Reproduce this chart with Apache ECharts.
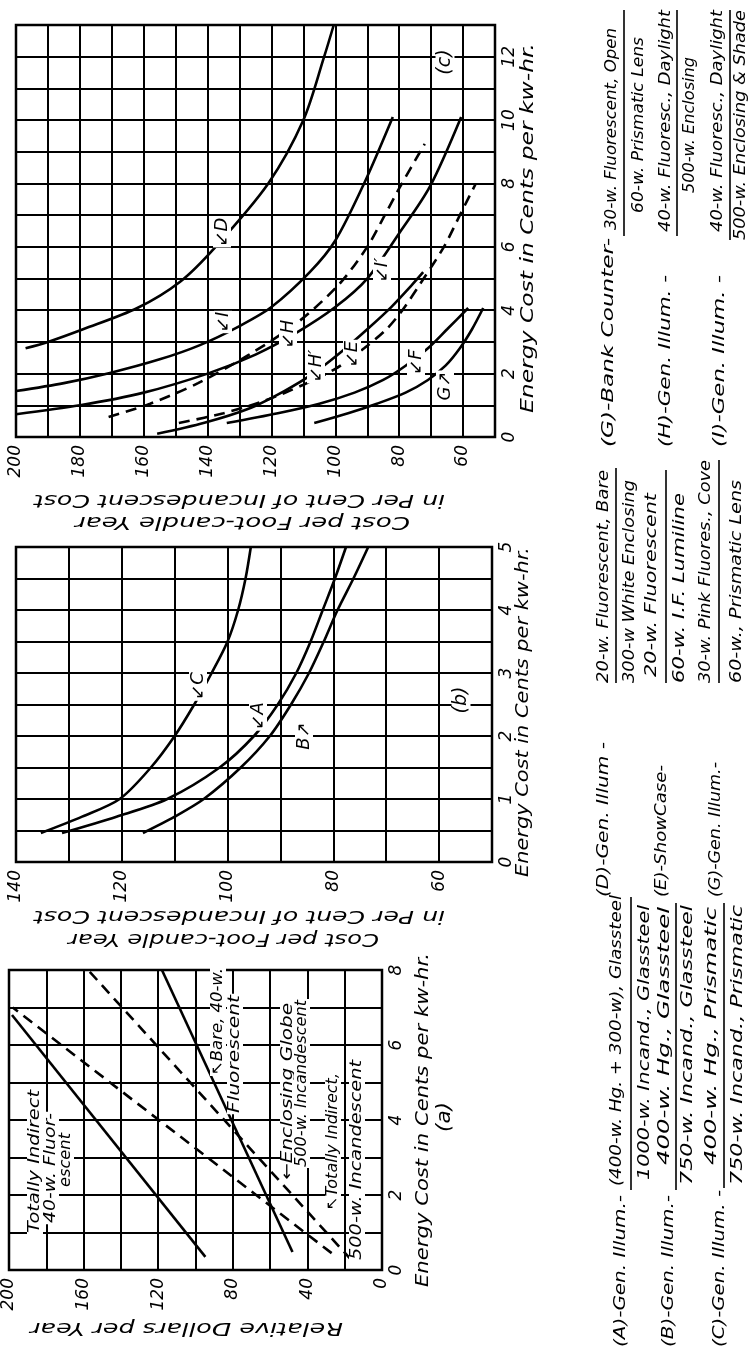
<!DOCTYPE html>
<html>
<head>
<meta charset="utf-8">
<script src="https://cdn.jsdelivr.net/npm/echarts@6.0.0/dist/echarts.min.js"></script>
<style>
html,body{margin:0;padding:0;background:#ffffff;}
#chart{width:749px;height:1349px;}
</style>
</head>
<body>
<div id="chart"></div>
<script>
// ================= DATA =================
// Each point: [cost (per cent of incandescent / relative dollars), energy cost in cents per kw-hr]
// ---- chart (c)
const cCurveD  = [[197,2.8],[190,3.0],[179,3.4],[162,4.07],[148.6,4.9],[137.5,6.0],[121,8.0],[110,10.0],[103.5,12.0],[100.5,13.0]];
const cCurveI  = [[200,1.45],[185,1.7],[170.6,2.02],[155,2.45],[142.4,2.9],[130,3.5],[120,4.1],[108,5.2],[100,6.2],[91,8.0],[82,10.1]];
const cCurveH  = [[200,0.72],[180,1.0],[160,1.4],[140,2.0],[125,2.6],[112,3.3],[100,4.1],[90,5.0],[80,6.43],[70.4,7.9],[60.6,10.1]];
const cCurveI2 = [[171,0.63],[158,1.05],[143,1.7],[127,2.6],[112,3.6],[99,4.8],[90,6.0],[84.5,7.0],[79.7,7.9],[72,9.25]];
const cCurveH2 = [[155.8,0.1],[141,0.45],[127,0.9],[116,1.45],[107,2.0],[98,2.7],[90,3.4],[82.5,4.1],[76,4.8],[72.5,5.2]];
const cCurveE  = [[149,0.44],[135,0.75],[122,1.15],[110,1.65],[100,2.15],[91,2.8],[84,3.4],[79,4.0],[73,4.9],[66,6.0],[61,7.0],[56,8.0]];
const cCurveF  = [[134,0.44],[118,0.75],[105,1.05],[94,1.4],[85,1.8],[78,2.25],[71,2.8],[65,3.4],[58.4,4.07]];
const cCurveG  = [[106.6,0.44],[96,0.75],[87,1.05],[78,1.4],[71,1.8],[65.5,2.25],[61,2.8],[57.2,3.4],[53.7,4.07]];
// ---- chart (b)
const bCurveC  = [[135.3,0.46],[127.5,0.72],[120.4,1.0],[114.5,1.5],[110,2.0],[106.3,2.5],[103,3.0],[100,3.5],[98,4.0],[96.6,4.5],[95.6,5.0]];
const bCurveA  = [[131.3,0.46],[121,0.72],[111.4,1.0],[101.5,1.5],[95,2.0],[90.5,2.5],[87,3.0],[84.3,3.5],[82,4.0],[79.7,4.5],[77.6,5.0]];
const bCurveB  = [[116,0.46],[110,0.72],[104.5,1.0],[97.5,1.5],[92,2.0],[88,2.5],[84.6,3.0],[81.8,3.5],[79.2,4.0],[76.2,4.5],[73.4,5.0]];
// ---- chart (a)
const aFluor40Indirect = [[94.7,0.35],[198.4,6.8]];
const aIncand500Indirect = [[27,0.45],[198,7.0]];
const aIncand500Globe = [[16.5,0.27],[157.6,8.0]];
const aFluor40Bare = [[48,0.48],[118,8.0]];
// ---- tick labels
const cCostTicks = [200,180,160,140,120,100,80,60];
const cEnergyTicks = [0,2,4,6,8,10,12];
const bCostTicks = [140,120,100,80,60];
const bEnergyTicks = [0,1,2,3,4,5];
const aCostTicks = [200,160,120,80,40,0];
const aEnergyTicks = [0,2,4,6,8];

// ================= LAYOUT =================
const FF = '"DejaVu Sans", "Liberation Sans", sans-serif';
const grids = [
  {left:16, top:25, width:479, height:412},   // (c)
  {left:16, top:547, width:476, height:315},  // (b)
  {left:9, top:970, width:373, height:300}    // (a)
];
// vertical texts reading bottom->top: [text, centerX, yStart(bottom), yEnd(top), fontSize, whiteBg]
const vTexts = [
  ['Energy Cost in Cents per kw-hr.', 528, 413, 43, 18, false],
  ['Energy Cost in Cents per kw-hr.', 523, 877, 547, 18, false],
  ['Energy Cost in Cents per kw-hr.', 423, 1287, 953, 18, false],
  ['(a)', 445, 1132, 1102, 19, false],
  ['Totally Indirect', 35, 1233, 1090, 16, true],
  ['40-w. Fluor-', 51, 1223, 1113, 16, true],
  ['escent', 66, 1187, 1133, 16, true],
  ['\u2196Bare, 40-w.', 218, 1075, 968, 16, true],
  ['Fluorescent', 235, 1113, 995, 16, true],
  ['\u2190Enclosing Globe', 288, 1180, 1003, 16, true],
  ['500-w. Incandescent', 302, 1167, 1000, 16, true],
  ['\u2196Totally Indirect,', 333, 1210, 1073, 16, true],
  ['500-w. Incandescent', 357, 1260, 1060, 16, true],
  // legend, top group
  ['(G)-Bank Counter-', 609, 447, 238, 16, false],
  ['30-w. Fluorescent, Open', 612, 230, 28, 16, false],
  ['60-w. Prismatic Lens', 639, 213, 37, 16, false],
  ['(H)-Gen. Illum. -', 666, 447, 275, 16, false],
  ['40-w. Fluoresc., Daylight', 666, 232, 10, 16, false],
  ['500-w. Enclosing', 690, 193, 57, 16, false],
  ['(I)-Gen. Illum. -', 720, 447, 275, 16, false],
  ['40-w. Fluoresc., Daylight', 718, 232, 10, 16, false],
  ['500-w. Enclosing & Shade', 741, 240, 10, 16, false],
  // legend, middle group
  ['(D)-Gen. Illum -', 604, 897, 742, 16, false],
  ['20-w. Fluorescent, Bare', 604, 683, 470, 16, false],
  ['300-w White Enclosing', 630, 683, 480, 16, false],
  ['(E)-ShowCase-', 662, 897, 765, 16, false],
  ['20-w. Fluorescent', 652, 677, 493, 16, false],
  ['60-w. I.F. Lumiline', 680, 683, 493, 16, false],
  ['(G)-Gen. Illum.-', 716, 897, 762, 16, false],
  ['30-w. Pink Fluores., Cove', 706, 683, 460, 16, false],
  ['60-w., Prismatic Lens', 737, 683, 480, 16, false],
  // legend, bottom group
  ['(A)-Gen. Illum.-', 621, 1347, 1195, 16, false],
  ['(400-w. Hg. + 300-w), Glassteel', 617, 1186, 895, 16, false],
  ['1000-w. Incand., Glassteel', 645, 1180, 905, 16, false],
  ['(B)-Gen. Illum.-', 669, 1347, 1195, 16, false],
  ['400-w. Hg., Glassteel', 665, 1165, 907, 16, false],
  ['750-w. Incand., Glassteel', 688, 1185, 905, 16, false],
  ['(C)-Gen. Illum. -', 720, 1347, 1190, 16, false],
  ['400-w. Hg., Prismatic', 712, 1165, 907, 16, false],
  ['750-w. Incand., Prismatic', 738, 1185, 905, 16, false]
];
// fraction bars: [x, yBottom, yTop]
const bars = [
  [624,236,10],[677,236,10],[730,240,10],
  [616,683,468],[666,683,470],[719,683,460],
  [631,1190,897],[676,1190,903],[724,1188,903]
];
// upside-down axis names: [text, centerY, xLeft, xRight, fontSize]
const flipTexts = [
  ['in Per Cent of Incandescent Cost', 499, 34, 445, 17],
  ['Cost per Foot-candle Year', 521, 75, 410, 17],
  ['in Per Cent of Incandescent Cost', 915, 34, 445, 17],
  ['Cost per Foot-candle Year', 938, 68, 379, 17],
  ['Relative Dollars per Year', 1327, 30, 343, 17]
];
// short curve labels: [text, centerX, centerY, fontSize]
const curveLabels = [
  ['(c)', 445, 62, 19], ['\u2199D', 222, 232, 18], ['\u2199I', 223, 322, 18], ['\u2199H', 288, 334, 18],
  ['\u2199H\u2032', 316, 366, 18], ['\u2199E', 352, 354, 18], ['\u2199I\u2032', 382, 270, 18],
  ['\u2199F', 416, 362, 18], ['G\u2197', 445, 386, 18],
  ['(b)', 461, 700, 19], ['\u2199C', 198, 686, 18], ['\u2199A', 258, 716, 18], ['B\u2197', 304, 736, 18]
];

// ================= BUILD =================
const mctx = document.createElement('canvas').getContext('2d');
function measure(t, size){ mctx.font = 'italic ' + size + 'px ' + FF; return mctx.measureText(t).width; }
function styleOf(t, size, bg){
  const s = {text:t, fontSize:size, fontFamily:FF, fontStyle:'italic', fill:'#000', align:'center', verticalAlign:'middle'};
  if (bg){ s.backgroundColor = '#fff'; s.padding = [0,1]; }
  return s;
}
const graphic = [];
vTexts.forEach(([t,x,y0,y1,size,bg]) => {
  const w = measure(t,size);
  graphic.push({type:'text', x:x, y:(y0+y1)/2, rotation:Math.PI/2, scaleX:(y0-y1)/w, scaleY:1, z:20, style:styleOf(t,size,bg)});
});
flipTexts.forEach(([t,y,x0,x1,size]) => {
  const w = measure(t,size);
  graphic.push({type:'text', x:(x0+x1)/2, y:y, rotation:Math.PI, scaleX:(x1-x0)/w, scaleY:1, z:20, style:styleOf(t,size,false)});
});
curveLabels.forEach(([t,x,y,size]) => {
  graphic.push({type:'text', x:x, y:y, rotation:Math.PI/2, z:20, style:styleOf(t,size,true)});
});
bars.forEach(([x,y0,y1]) => {
  graphic.push({type:'line', z:20, shape:{x1:x,y1:y0,x2:x,y2:y1}, style:{stroke:'#000', lineWidth:1.6}});
});

function costAxis(gi, min, max, step, ticks){
  return {gridIndex:gi, type:'value', min:min, max:max, interval:step, inverse:true, position:'bottom',
    axisLine:{show:false}, axisTick:{show:false},
    splitLine:{show:true, lineStyle:{color:'#000', width:2}},
    axisLabel:{rotate:90, margin:8, color:'#000', fontSize:17, fontStyle:'italic', fontFamily:FF,
      formatter:v => ticks.indexOf(v) >= 0 ? String(v) : ''}};
}
function energyAxis(gi, min, max, step, ticks){
  return {gridIndex:gi, type:'value', min:min, max:max, interval:step, position:'right',
    axisLine:{show:false}, axisTick:{show:false},
    splitLine:{show:true, lineStyle:{color:'#000', width:2}},
    axisLabel:{rotate:90, margin:6, color:'#000', fontSize:17, fontStyle:'italic', fontFamily:FF,
      formatter:v => ticks.indexOf(v) >= 0 ? String(v) : ''}};
}
function curve(gi, name, data, dashed, smooth){
  return {type:'line', name:name, xAxisIndex:gi, yAxisIndex:gi, data:data, smooth:smooth, symbol:'none', showSymbol:false,
    silent:true, z:5, lineStyle:{color:'#000', width:2.6, type: dashed ? [11,7] : 'solid'}};
}

const option = {
  animation:false,
  backgroundColor:'#fff',
  grid: grids.map(g => Object.assign({show:true, borderColor:'#000', borderWidth:2.5, backgroundColor:'transparent', containLabel:false}, g)),
  xAxis:[ costAxis(0,50,200,10,cCostTicks), costAxis(1,50,140,10,bCostTicks), costAxis(2,0,200,20,aCostTicks) ],
  yAxis:[ energyAxis(0,0,13,1,cEnergyTicks), energyAxis(1,0,5,0.5,bEnergyTicks), energyAxis(2,0,8,1,aEnergyTicks) ],
  series:[
    curve(0,'D',cCurveD,false,0.3), curve(0,'I',cCurveI,false,0.3), curve(0,'H',cCurveH,false,0.3),
    curve(0,"I'",cCurveI2,true,0.3), curve(0,"H'",cCurveH2,false,0.3), curve(0,'E',cCurveE,true,0.3),
    curve(0,'F',cCurveF,false,0.3), curve(0,'G',cCurveG,false,0.3),
    curve(1,'C',bCurveC,false,0.3), curve(1,'A',bCurveA,false,0.3), curve(1,'B',bCurveB,false,0.3),
    curve(2,'Totally Indirect 40-w. Fluorescent',aFluor40Indirect,false,0),
    curve(2,'Totally Indirect 500-w. Incandescent',aIncand500Indirect,true,0),
    curve(2,'Enclosing Globe 500-w. Incandescent',aIncand500Globe,true,0),
    curve(2,'Bare 40-w. Fluorescent',aFluor40Bare,false,0)
  ],
  graphic: graphic
};
const chart = echarts.init(document.getElementById('chart'), null, {renderer:'canvas'});
chart.setOption(option);
</script>
</body>
</html>
